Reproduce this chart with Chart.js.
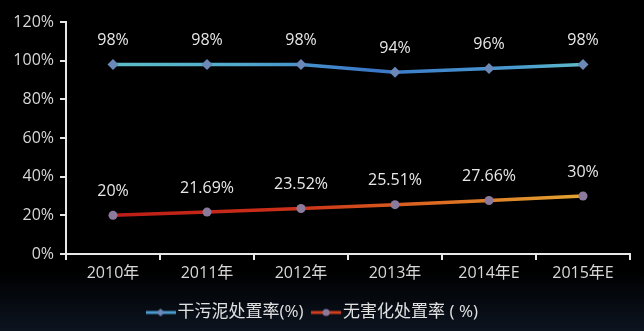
<!DOCTYPE html>
<html>
<head>
<meta charset="utf-8">
<script src="https://cdn.jsdelivr.net/npm/chart.js@4"></script>
<style>
  html, body { margin: 0; padding: 0; }
  body {
    width: 644px; height: 331px; overflow: hidden;
    background: linear-gradient(to bottom, #000 0%, #000 82%, #0c1420 100%);
  }
  #wrap { width: 644px; height: 331px; position: relative; }
</style>
</head>
<body>
<div id="wrap"><canvas id="chart"></canvas></div>
<script>
const years = ['2010年', '2011年', '2012年', '2013年', '2014年E', '2015年E'];
const drySludge = [98, 98, 98, 94, 96, 98];
const harmless = [20, 21.69, 23.52, 25.51, 27.66, 30];
const seriesNames = ['干污泥处置率(%)', '无害化处置率 ( %)'];

const FONT = '"Open Sans", "Noto Sans CJK SC", sans-serif';

// 折線漸層（依 chartArea 產生）
function lineGradient(ctx, stops) {
  const area = ctx.chart.chartArea;
  if (!area) return stops[0][1];
  const g = ctx.chart.ctx.createLinearGradient(area.left, 0, area.right, 0);
  stops.forEach(([p, c]) => g.addColorStop(p, c));
  return g;
}
const blueStops = [[0, '#62c6c2'], [0.3, '#52aacc'], [0.55, '#3a76c8'], [0.8, '#4a9cd0'], [1, '#6ed2c0']];
const redStops = [[0, '#b81818'], [0.4, '#cc3018'], [0.65, '#dc6a22'], [1, '#e6b836']];

// 圖例小圖示
function legendIcon(color, marker, style) {
  const c = document.createElement('canvas');
  c.width = 30; c.height = 10;
  const x = c.getContext('2d');
  x.strokeStyle = color; x.lineWidth = 3;
  x.beginPath(); x.moveTo(0, 5); x.lineTo(30, 5); x.stroke();
  x.fillStyle = marker;
  x.beginPath();
  if (style === 'diamond') {
    x.moveTo(15, 1); x.lineTo(19, 5); x.lineTo(15, 9); x.lineTo(11, 5);
  } else {
    x.arc(15, 5, 3.5, 0, Math.PI * 2);
  }
  x.fill();
  return c;
}
const icons = [legendIcon('#4a9cd0', '#6a88b8', 'diamond'), legendIcon('#d04020', '#8c7a9c', 'circle')];

const valueLabels = {
  id: 'valueLabels',
  afterDatasetsDraw(chart) {
    const ctx = chart.ctx;
    ctx.save();
    ctx.fillStyle = '#e8e8e8';
    ctx.font = '16px ' + FONT;
    ctx.textAlign = 'center';
    ctx.textBaseline = 'middle';
    chart.data.datasets.forEach((ds, i) => {
      chart.getDatasetMeta(i).data.forEach((pt, j) => {
        ctx.fillText(ds.data[j] + '%', pt.x, pt.y - 24);
      });
    });
    ctx.restore();
  }
};

new Chart(document.getElementById('chart'), {
  type: 'line',
  data: {
    labels: years,
    datasets: [
      {
        label: seriesNames[0],
        data: drySludge,
        borderColor: (ctx) => lineGradient(ctx, blueStops),
        borderWidth: 3.5,
        pointStyle: 'rectRot',
        pointRadius: 5.5,
        pointBackgroundColor: '#6a88b8',
        pointBorderWidth: 0,
        tension: 0,
      },
      {
        label: seriesNames[1],
        data: harmless,
        borderColor: (ctx) => lineGradient(ctx, redStops),
        borderWidth: 3.5,
        pointStyle: 'circle',
        pointRadius: 4.5,
        pointBackgroundColor: '#8c7a9c',
        pointBorderWidth: 0,
        tension: 0,
      },
    ],
  },
  options: {
    responsive: true,
    maintainAspectRatio: false,
    animation: false,
    layout: { padding: { top: 22, right: 14, left: 0, bottom: 0 } },
    plugins: {
      tooltip: { enabled: false },
      legend: {
        position: 'bottom',
        labels: {
          color: '#e0e0e0',
          font: { family: FONT, size: 17 },
          usePointStyle: true,
          padding: 14,
          generateLabels: (chart) => chart.data.datasets.map((ds, i) => ({
            text: ds.label,
            pointStyle: icons[i],
            fillStyle: 'transparent',
            strokeStyle: 'transparent',
            fontColor: '#e0e0e0',
            datasetIndex: i,
          })),
        },
      },
    },
    scales: {
      x: {
        offset: true,
        grid: { display: true, drawOnChartArea: false, offset: true, color: '#e8e8e8', lineWidth: 2, tickLength: 6 },
        border: { color: '#e8e8e8', width: 2 },
        ticks: { color: '#d8d8d8', font: { family: FONT, size: 16 }, padding: 4 },
        afterFit: (scale) => { scale.height = 36; },
      },
      y: {
        min: 0,
        max: 120,
        grid: { display: true, drawOnChartArea: false, color: '#e8e8e8', lineWidth: 2, tickLength: 6 },
        border: { color: '#e8e8e8', width: 2 },
        ticks: {
          stepSize: 20,
          color: '#d8d8d8',
          font: { family: FONT, size: 16 },
          padding: 6,
          callback: (v) => v + '%',
        },
        afterFit: (scale) => { scale.width = 66; },
      },
    },
  },
  plugins: [valueLabels],
});
</script>
</body>
</html>
